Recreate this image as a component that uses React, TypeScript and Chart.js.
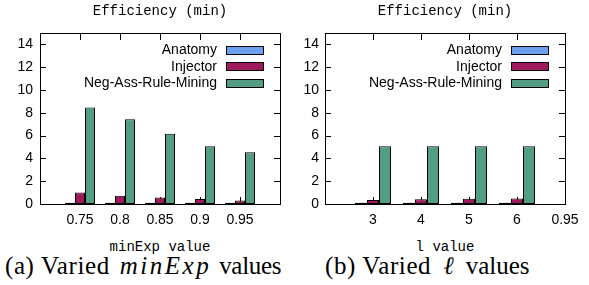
import React, { useEffect, useRef } from 'react';
import { Chart, registerables } from 'chart.js';

Chart.register(...registerables);

// ---------- data ----------
const seriesNames = ['Anatomy', 'Injector', 'Neg-Ass-Rule-Mining'];
const seriesColors = ['#6CA0F0', '#9E1A5C', '#539E82'];

const minExpLabels = ['', '0.75', '0.8', '0.85', '0.9', '0.95', ''];
const minExpAnatomy = [null, 0.1, 0.1, 0.1, 0.1, 0.1, null];
const minExpInjector = [null, 1.0, 0.73, 0.56, 0.44, 0.3, null];
const minExpNarm = [null, 8.47, 7.43, 6.17, 5.07, 4.54, null];

const lLabels = ['', '3', '4', '5', '6', '0.95'];
const lAnatomy = [null, 0.1, 0.1, 0.1, 0.1, null];
const lInjector = [null, 0.35, 0.42, 0.45, 0.48, null];
const lNarm = [null, 5.07, 5.07, 5.07, 5.07, null];

const yMin = 0;
const yMax = 15;
const yTickValues = [0, 2, 4, 6, 8, 10, 12, 14];

const chartTitle = 'Efficiency (min)';

// ---------- plugin: gnuplot-like frame, inward ticks, legend ----------
const framePlugin = {
  id: 'gnuframe',
  beforeDatasetsDraw(chart: any) {
    const { ctx, chartArea: a, scales } = chart;
    const x = scales.x;
    const y = scales.y;
    const labels: string[] = chart.data.labels;
    ctx.save();
    ctx.strokeStyle = '#000';
    ctx.lineWidth = 1;
    ctx.beginPath();
    y.ticks.forEach((t: any) => {
      const py = Math.round(y.getPixelForValue(t.value)) + 0.5;
      ctx.moveTo(a.left, py);
      ctx.lineTo(a.left + 6, py);
      ctx.moveTo(a.right, py);
      ctx.lineTo(a.right - 6, py);
    });
    labels.forEach((lab, i) => {
      if (!lab) return;
      const px = Math.round(x.getPixelForTick(i)) + 0.5;
      ctx.moveTo(px, a.bottom);
      ctx.lineTo(px, a.bottom - 7);
      ctx.moveTo(px, a.top);
      ctx.lineTo(px, a.top + 7);
    });
    ctx.stroke();
    ctx.restore();
  },
  afterDatasetsDraw(chart: any) {
    const { ctx, chartArea: a } = chart;
    ctx.save();
    ctx.strokeStyle = '#000';
    ctx.lineWidth = 1;
    ctx.strokeRect(Math.round(a.left) + 0.5, Math.round(a.top) + 0.5, Math.round(a.right - a.left), Math.round(a.bottom - a.top));
    // legend
    ctx.font = '14px "Liberation Sans", Arial, sans-serif';
    ctx.textAlign = 'right';
    ctx.textBaseline = 'middle';
    ctx.fillStyle = '#000';
    chart.data.datasets.forEach((ds: any, i: number) => {
      const cy = a.top + 17 + i * 16.5;
      const sx = Math.round(a.right - 16 - 38);
      const sy = Math.round(cy - 4.5);
      ctx.fillStyle = ds.backgroundColor;
      ctx.fillRect(sx, sy, 38, 9);
      ctx.strokeRect(sx + 0.5, sy + 0.5, 37, 8);
      ctx.fillStyle = '#000';
      ctx.fillText(ds.label, sx - 9, cy + 0.5);
    });
    ctx.restore();
  },
};

type PanelProps = {
  left: number;
  width: number;
  yAxisWidth: number;
  yPad: number;
  rightPad: number;
  labels: string[];
  series: (number | null)[][];
  xTitle: string;
};

const CANVAS_H = 235;
const PLOT_TOP = 33;
const PLOT_BOTTOM = 204;

function Panel(props: PanelProps) {
  const ref = useRef<HTMLCanvasElement | null>(null);
  useEffect(() => {
    if (!ref.current) return;
    const chart = new Chart(ref.current, {
      type: 'bar',
      data: {
        labels: props.labels,
        datasets: props.series.map((d, i) => ({
          label: seriesNames[i],
          data: d,
          backgroundColor: seriesColors[i],
          borderColor: '#000',
          borderWidth: 1,
          borderSkipped: false,
          categoryPercentage: 0.75,
          barPercentage: 1.0,
        })),
      },
      options: {
        responsive: false,
        animation: false,
        devicePixelRatio: 1,
        layout: { padding: { left: 0, right: props.rightPad, top: PLOT_TOP, bottom: 0 } },
        plugins: { legend: { display: false }, tooltip: { enabled: false }, title: { display: false } },
        scales: {
          x: {
            type: 'category',
            offset: false,
            grid: { display: false, drawTicks: false },
            border: { display: false },
            ticks: {
              autoSkip: false,
              maxRotation: 0,
              padding: 8,
              color: '#000',
              font: { family: '"Liberation Sans", Arial, sans-serif', size: 14 },
            },
            afterFit(scale: any) {
              scale.height = CANVAS_H - PLOT_BOTTOM;
            },
          },
          y: {
            min: yMin,
            max: yMax,
            grid: { display: false, drawTicks: false },
            border: { display: false },
            ticks: {
              padding: props.yPad,
              color: '#000',
              font: { family: '"Liberation Sans", Arial, sans-serif', size: 14 },
            },
            afterBuildTicks(scale: any) {
              scale.ticks = yTickValues.map((v) => ({ value: v }));
            },
            afterFit(scale: any) {
              scale.width = props.yAxisWidth;
            },
          },
        },
      } as any,
      plugins: [framePlugin],
    });
    return () => chart.destroy();
  }, []);

  const plotLeft = props.yAxisWidth;
  const plotWidth = props.width - props.rightPad - props.yAxisWidth;
  const mono = '"Liberation Mono", "Courier New", monospace';
  return (
    <div style={{ position: 'absolute', left: props.left, top: 0, width: props.width, height: 285 }}>
      <canvas ref={ref} width={props.width} height={CANVAS_H} style={{ position: 'absolute', left: 0, top: 0, width: props.width, height: CANVAS_H }} />
      <div style={{ position: 'absolute', left: plotLeft, width: plotWidth, top: 4, textAlign: 'center', font: `14px ${mono}`, lineHeight: '14px', whiteSpace: 'pre' }}>
        {chartTitle}
      </div>
      <div style={{ position: 'absolute', left: plotLeft, width: plotWidth, top: 240, textAlign: 'center', font: `14px ${mono}`, lineHeight: '14px', whiteSpace: 'pre' }}>
        {props.xTitle}
      </div>
    </div>
  );
}

export default function App() {
  const serif = '"Liberation Serif", "Times New Roman", serif';
  return (
    <div style={{ position: 'fixed', left: 0, top: 0, width: 589, height: 285, background: '#fff', overflow: 'hidden' }}>
      <Panel left={0} width={295} yAxisWidth={40} yPad={7} rightPad={15} labels={minExpLabels} series={[minExpAnatomy, minExpInjector, minExpNarm]} xTitle="minExp value" />
      <Panel left={295} width={294} yAxisWidth={30} yPad={6} rightPad={24} labels={lLabels} series={[lAnatomy, lInjector, lNarm]} xTitle="l value" />
      <div style={{ position: 'absolute', left: 5, top: 253, font: `25px ${serif}`, lineHeight: '25px', whiteSpace: 'pre' }}>
        <span style={{ letterSpacing: '0.6px' }}>(a) Varied</span>
        <i style={{ letterSpacing: '2.5px', marginLeft: 10, marginRight: 8 }}>minExp</i>
        <span style={{ letterSpacing: '-0.3px' }}>values</span>
      </div>
      <div style={{ position: 'absolute', left: 325, top: 253, font: `25px ${serif}`, lineHeight: '25px', whiteSpace: 'pre' }}>
        <span style={{ letterSpacing: '0.6px' }}>(b) Varied</span>
        <i style={{ marginLeft: 12, marginRight: 12 }}>ℓ</i>
        <span>values</span>
      </div>
    </div>
  );
}
